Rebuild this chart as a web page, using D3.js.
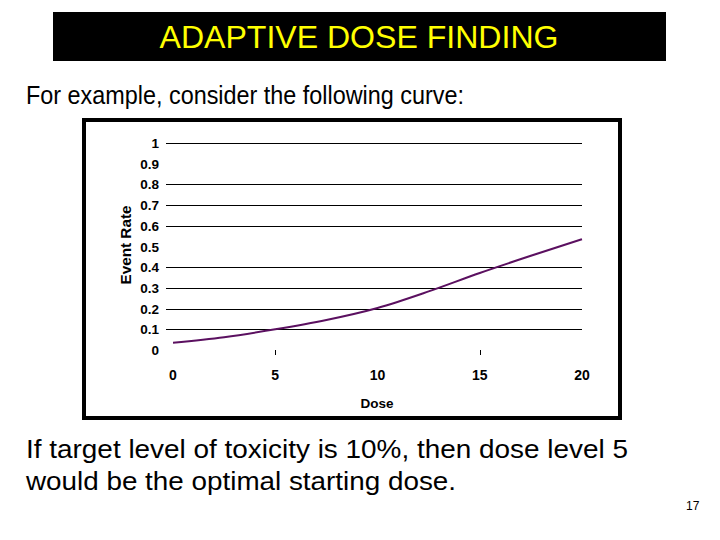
<!DOCTYPE html>
<html><head><meta charset="utf-8">
<script src="https://cdn.jsdelivr.net/npm/d3@7"></script>
<style>body{margin:0;background:#fff}svg{display:block}</style>
</head><body>
<svg id="c" width="720" height="540"></svg>
<script>
const doses = [0, 2.5, 5, 7.5, 10, 12.5, 15, 17.5, 20];
const eventRate = [0.035, 0.062, 0.100, 0.145, 0.203, 0.283, 0.372, 0.455, 0.535];
const yTicks = [0, 0.1, 0.2, 0.3, 0.4, 0.5, 0.6, 0.7, 0.8, 0.9, 1];
const yGridShown = [0.1, 0.2, 0.3, 0.4, 0.6, 0.7, 0.8, 1];
const xTicks = [0, 5, 10, 15, 20];
const xTickMarks = [5, 15];

const svg = d3.select("#c");
const F = "Liberation Sans, Arial, sans-serif";

// title bar
svg.append("rect").attr("x",53).attr("y",12).attr("width",613).attr("height",49).attr("fill","#000");
svg.append("text").attr("x",359).attr("y",48).attr("text-anchor","middle")
  .attr("font-family",F).attr("font-size",31).attr("fill","#ffff00")
  .attr("textLength",399).attr("lengthAdjust","spacingAndGlyphs").text("ADAPTIVE DOSE FINDING");

svg.append("text").attr("x",26).attr("y",104).attr("font-family",F).attr("font-size",25)
  .attr("textLength",438).attr("lengthAdjust","spacingAndGlyphs").text("For example, consider the following curve:");

// chart frame
svg.append("rect").attr("x",84).attr("y",120).attr("width",536).attr("height",298)
  .attr("fill","#fff").attr("stroke","#000").attr("stroke-width",4);

const x = d3.scaleLinear().domain([0,20]).range([173,582]);
const y = d3.scaleLinear().domain([0,1]).range([350,143]);

// gridlines
svg.append("g").selectAll("line").data(yGridShown).join("line")
  .attr("x1",166).attr("x2",x(20)).attr("y1",d=>Math.round(y(d))+0.5).attr("y2",d=>Math.round(y(d))+0.5)
  .attr("stroke","#000").attr("stroke-width",1);

// y axis labels
svg.append("g").selectAll("text").data(yTicks).join("text")
  .attr("x",159).attr("y",d=>y(d)+5).attr("text-anchor","end")
  .attr("font-family",F).attr("font-weight","bold").attr("font-size",13.5)
  .text(d=>d3.format("")(d));

// x tick marks
svg.append("g").selectAll("line").data(xTickMarks).join("line")
  .attr("x1",d=>Math.round(x(d))+0.5).attr("x2",d=>Math.round(x(d))+0.5).attr("y1",350).attr("y2",355)
  .attr("stroke","#000").attr("stroke-width",1);

// x labels
svg.append("g").selectAll("text").data(xTicks).join("text")
  .attr("x",d=>x(d)).attr("y",380).attr("text-anchor","middle")
  .attr("font-family",F).attr("font-weight","bold").attr("font-size",14).text(d=>d);

svg.append("text").attr("x",377).attr("y",408).attr("text-anchor","middle")
  .attr("font-family",F).attr("font-weight","bold").attr("font-size",13.5).text("Dose");
svg.append("text").attr("transform","translate(131,245) rotate(-90)").attr("text-anchor","middle")
  .attr("font-family",F).attr("font-weight","bold").attr("font-size",14)
  .attr("textLength",79).attr("lengthAdjust","spacingAndGlyphs").text("Event Rate");

// curve
const pts = doses.map((d,i)=>[d,eventRate[i]]);
svg.append("path").datum(pts)
  .attr("d",d3.line().x(d=>x(d[0])).y(d=>y(d[1])).curve(d3.curveMonotoneX))
  .attr("fill","none").attr("stroke","#5b1060").attr("stroke-width",2);

// bottom text
svg.append("text").attr("x",26).attr("y",458).attr("font-family",F).attr("font-size",26)
  .attr("textLength",602).attr("lengthAdjust","spacingAndGlyphs").text("If target level of toxicity is 10%, then dose level 5");
svg.append("text").attr("x",26).attr("y",490).attr("font-family",F).attr("font-size",26)
  .attr("textLength",430).attr("lengthAdjust","spacingAndGlyphs").text("would be the optimal starting dose.");

svg.append("text").attr("x",686).attr("y",510).attr("font-family",F).attr("font-size",12).text("17");
</script>
</body></html>
